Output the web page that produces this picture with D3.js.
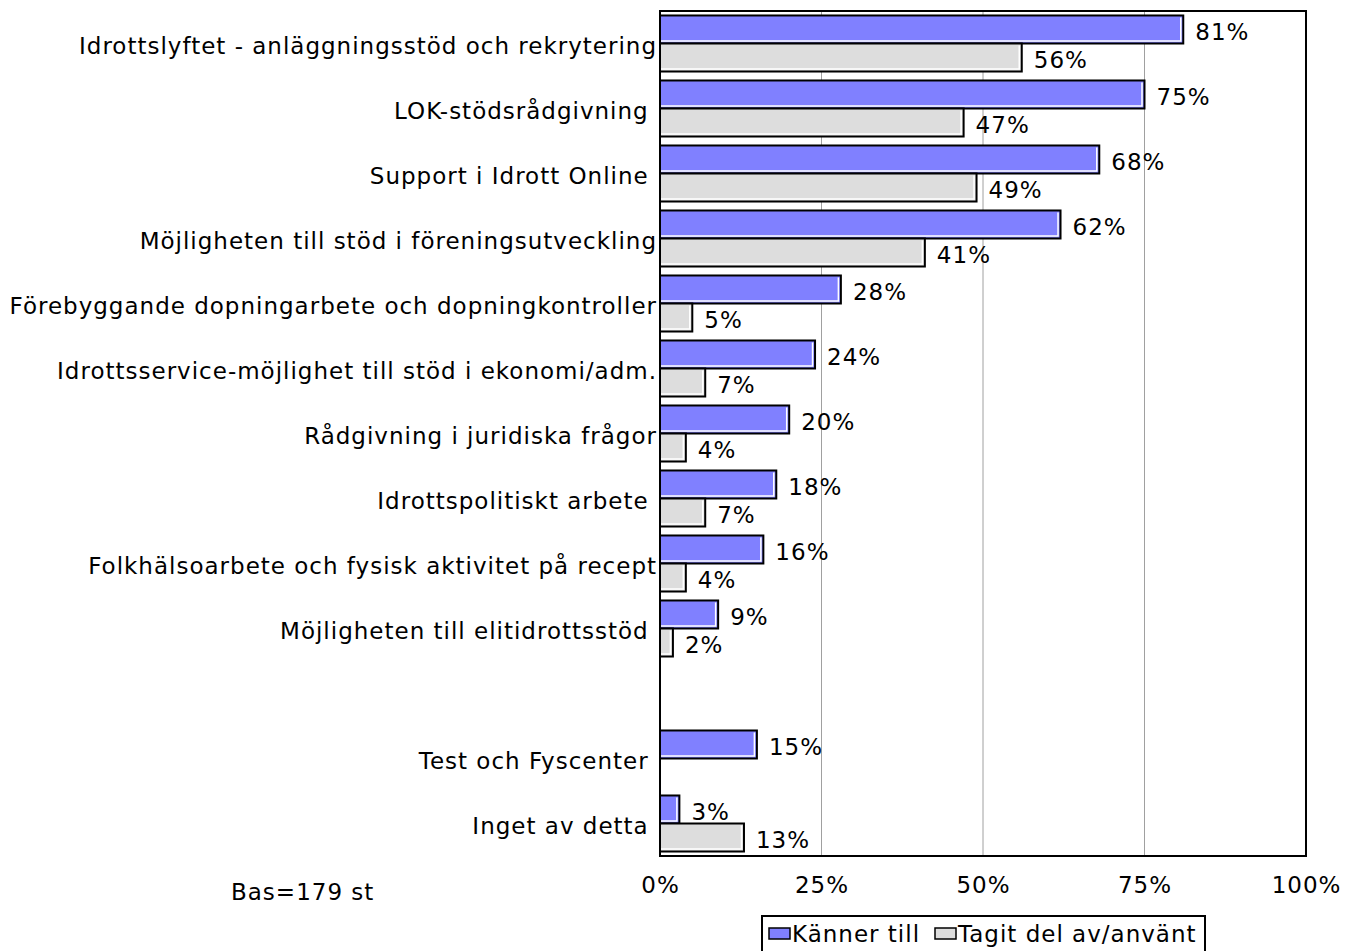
<!DOCTYPE html>
<html>
<head>
<meta charset="utf-8">
<script src="https://cdn.jsdelivr.net/npm/d3@7"></script>
<style>
  body { margin: 0; background: #fff; }
  svg { font-family: "DejaVu Sans", Verdana, sans-serif; }
  svg text { letter-spacing: 1px; }
</style>
</head>
<body>
<div id="chart"></div>
<script>
// data (some labels carry a trailing space, as in the source)
const categories = [
    "Idrottslyftet - anläggningsstöd och rekrytering",
    "LOK-stödsrådgivning ",
    "Support i Idrott Online ",
    "Möjligheten till stöd i föreningsutveckling",
    "Förebyggande dopningarbete och dopningkontroller",
    "Idrottsservice-möjlighet till stöd i ekonomi/adm.",
    "Rådgivning i juridiska frågor",
    "Idrottspolitiskt arbete ",
    "Folkhälsoarbete och fysisk aktivitet på recept",
    "Möjligheten till elitidrottsstöd ",
    "",
    "Test och Fyscenter ",
    "Inget av detta "
];
const seriesNames = ["Känner till", "Tagit del av/använt"];
const kannerTill = [81, 75, 68, 62, 28, 24, 20, 18, 16, 9, null, 15, 3];
const tagitDel = [56, 47, 49, 41, 5, 7, 4, 7, 4, 2, null, null, 13];
const xTicks = [0, 25, 50, 75, 100];
const baseNote = "Bas=179 st";

const colors = ["#8080FF", "#DDDDDD"];
const W = 1345, H = 951;
const plot = { left: 660, right: 1306, top: 11, bottom: 856 };
const fontSize = "23px";

const svg = d3.select("#chart").append("svg")
    .attr("width", W)
    .attr("height", H);

const slots = categories.map((c, i) => i);

const x = d3.scaleLinear().domain([0, 100]).range([plot.left, plot.right]);
const y = d3.scaleBand().domain(slots).range([plot.top, plot.bottom]).paddingInner(0.138).paddingOuter(0.069);
const ySub = d3.scaleBand().domain([0, 1]).range([0, y.bandwidth()]);

// category labels (drawn first, bars sit on top)
svg.append("g").selectAll("text")
    .data(categories)
    .enter().append("text")
    .attr("xml:space", "preserve")
    .style("white-space", "pre")
    .attr("x", 657)
    .attr("y", (d, i) => y(i) + y.bandwidth() / 2 + 2)
    .attr("dy", "0.36em")
    .attr("text-anchor", "end")
    .style("font-size", fontSize)
    .style("fill", "#000")
    .text(d => d);

// grid lines
svg.append("g").selectAll("line")
    .data(xTicks.slice(1, -1))
    .enter().append("line")
    .attr("x1", d => x(d)).attr("x2", d => x(d))
    .attr("y1", plot.top).attr("y2", plot.bottom)
    .attr("stroke", "#a0a0a0")
    .attr("stroke-width", 1);

// bars
const rows = [];
categories.forEach((c, i) => {
    [kannerTill[i], tagitDel[i]].forEach((v, s) => {
        if (v !== null) rows.push({ i: i, s: s, v: v });
    });
});

const bars = svg.append("g").selectAll("g")
    .data(rows)
    .enter().append("g");

bars.append("rect")
    .attr("x", x(0))
    .attr("y", d => y(d.i) + ySub(d.s))
    .attr("width", d => x(d.v) - x(0))
    .attr("height", ySub.bandwidth())
    .attr("fill", d => colors[d.s])
    .attr("stroke", "#000")
    .attr("stroke-width", 2);

// white inner edge on right and bottom
bars.append("path")
    .attr("d", d => {
        const x1 = x(d.v) - 2.5, y0 = y(d.i) + ySub(d.s) + 2, y1 = y(d.i) + ySub(d.s) + ySub.bandwidth() - 2.5;
        return `M${x1},${y0}V${y1}H${x(0) + 1}`;
    })
    .attr("fill", "none")
    .attr("stroke", "#fff")
    .attr("stroke-width", 1.5);

// value labels
svg.append("g").selectAll("text")
    .data(rows)
    .enter().append("text")
    .attr("x", d => x(d.v) + 12)
    .attr("y", d => y(d.i) + ySub(d.s) + ySub.bandwidth() / 2 + 2)
    .attr("dy", "0.36em")
    .style("font-size", fontSize)
    .text(d => d.v + "%");

// plot frame
svg.append("rect")
    .attr("x", plot.left).attr("y", plot.top)
    .attr("width", plot.right - plot.left)
    .attr("height", plot.bottom - plot.top)
    .attr("fill", "none")
    .attr("stroke", "#000")
    .attr("stroke-width", 2);

// x axis
const xAxis = svg.append("g")
    .attr("transform", `translate(0,${plot.bottom})`)
    .call(d3.axisBottom(x).tickValues(xTicks).tickFormat(d => d + "%").tickSize(0).tickPadding(21));
xAxis.select(".domain").remove();
xAxis.selectAll("text")
    .style("font-family", "DejaVu Sans, Verdana, sans-serif")
    .style("font-size", fontSize)
    .attr("fill", "#000");

// base note
svg.append("text")
    .attr("x", 231)
    .attr("y", 892)
    .attr("dy", "0.36em")
    .style("font-size", fontSize)
    .text(baseNote);

// legend, text runs past the box and gets clipped like the original
const legend = svg.append("g");
svg.append("clipPath").attr("id", "legclip")
    .append("rect").attr("x", 762).attr("y", 916).attr("width", 443).attr("height", 40);
legend.append("rect")
    .attr("x", 762).attr("y", 916)
    .attr("width", 443).attr("height", 45)
    .attr("fill", "#fff")
    .attr("stroke", "#000")
    .attr("stroke-width", 2);
const legX = [769, 935];
const li = legend.append("g").attr("clip-path", "url(#legclip)")
    .selectAll("g").data(seriesNames).enter().append("g");
li.append("rect")
    .attr("x", (d, i) => legX[i]).attr("y", 928)
    .attr("width", 21).attr("height", 11)
    .attr("fill", (d, i) => colors[i])
    .attr("stroke", "#000")
    .attr("stroke-width", 1.5);
li.append("text")
    .attr("x", (d, i) => legX[i] + 23)
    .attr("y", 934)
    .attr("dy", "0.36em")
    .style("font-size", fontSize)
    .text(d => d);
</script>
</body>
</html>
